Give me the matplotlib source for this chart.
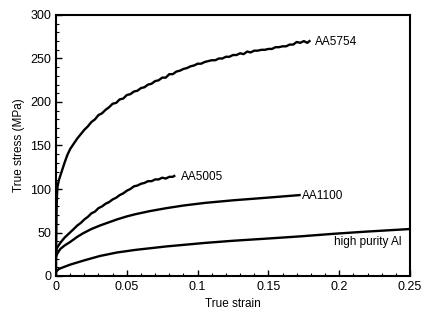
import matplotlib.pyplot as plt
from matplotlib.ticker import MultipleLocator

plt.rcParams['font.family'] = ['Liberation Sans Narrow', 'Liberation Sans', 'DejaVu Sans']

# AA5754 (serrated curve)
strain_5754 = [0.0, 0.0002, 0.0004, 0.0007, 0.001, 0.002, 0.004, 0.006, 0.008,
               0.0100, 0.0125, 0.0150, 0.0175, 0.0200, 0.0225, 0.0250, 0.0275,
               0.0300, 0.0325, 0.0350, 0.0375, 0.0400, 0.0425, 0.0450, 0.0475,
               0.0500, 0.0525, 0.0550, 0.0575, 0.0600, 0.0625, 0.0650, 0.0675,
               0.0700, 0.0725, 0.0750, 0.0775, 0.0800, 0.0825, 0.0850, 0.0875,
               0.0900, 0.0925, 0.0950, 0.0975, 0.1000, 0.1025, 0.1050, 0.1075,
               0.1100, 0.1125, 0.1150, 0.1175, 0.1200, 0.1225, 0.1250, 0.1275,
               0.1300, 0.1325, 0.1350, 0.1375, 0.1400, 0.1425, 0.1450, 0.1475,
               0.1500, 0.1525, 0.1550, 0.1575, 0.1600, 0.1625, 0.1650, 0.1675,
               0.1700, 0.1725, 0.1750, 0.1775, 0.1790]
stress_5754 = [0, 45, 75, 93, 102, 110, 120, 130, 139,
               146, 152, 158, 163, 168, 172, 177, 180,
               185, 187, 191, 194, 198, 199, 203, 204,
               208, 209, 212, 213, 216, 217, 220, 221,
               224, 225, 228, 228, 232, 232, 235, 236,
               238, 239, 241, 242, 244, 244, 246, 247,
               248, 248, 250, 250, 252, 252, 254, 254,
               256, 255, 258, 257, 259, 259, 260, 260,
               261, 261, 263, 263, 264, 264, 266, 266,
               269, 268, 270, 268, 270]

# AA5005
strain_5005 = [0.0, 0.001, 0.003, 0.006, 0.0099, 0.0125, 0.015, 0.0175, 0.020,
               0.0225, 0.025, 0.0275, 0.030, 0.0325, 0.035, 0.0375, 0.040,
               0.0425, 0.045, 0.0475, 0.050, 0.0525, 0.055, 0.0575, 0.060,
               0.0625, 0.065, 0.0675, 0.070, 0.0725, 0.075, 0.0775, 0.080,
               0.0825, 0.0835]
stress_5005 = [30, 33, 38, 44, 50, 54, 58, 61, 65,
               68, 72, 74, 78, 80, 83, 85, 88,
               90, 93, 95, 98, 100, 103, 104, 106,
               107, 109, 109, 111, 111, 113, 112, 114,
               114, 115]

# AA1100
strain_1100 = [0.0, 0.001, 0.003, 0.006, 0.0099, 0.015, 0.019, 0.025, 0.031, 0.037,
               0.043, 0.050, 0.056, 0.066, 0.078, 0.090, 0.105, 0.125, 0.149, 0.172]
stress_1100 = [22, 26, 31, 35, 39, 45, 49, 54, 58, 61.5,
               65, 68.5, 71, 74.5, 78, 81, 84, 87, 90, 93]

# high purity Al
strain_hp = [0.0, 0.002, 0.005, 0.0099, 0.02, 0.031, 0.043, 0.056, 0.078, 0.105,
             0.125, 0.149, 0.172, 0.196, 0.219, 0.25]
stress_hp = [5, 8, 10, 13, 18, 23, 27, 30, 34, 38,
             40.5, 43, 45.5, 48.5, 51, 54]

fig = plt.figure(figsize=(4.22, 3.21), dpi=100)
ax = fig.add_axes([56 / 422, 45 / 321, 354 / 422, 261 / 321])

ax.plot(strain_5754, stress_5754, color='black', lw=1.7)
ax.plot(strain_5005, stress_5005, color='black', lw=1.7)
ax.plot(strain_1100, stress_1100, color='black', lw=1.7)
ax.plot(strain_hp, stress_hp, color='black', lw=1.7)

ax.text(0.183, 269, 'AA5754', fontsize=8.5, va='center', ha='left')
ax.text(0.088, 114, 'AA5005', fontsize=8.5, va='center', ha='left')
ax.text(0.174, 92, 'AA1100', fontsize=8.5, va='center', ha='left')
ax.text(0.244, 39, 'high purity Al', fontsize=8.5, va='center', ha='right')

ax.set_xlim(0, 0.25)
ax.set_ylim(0, 300)
ax.set_xticks([0, 0.05, 0.1, 0.15, 0.2, 0.25])
ax.set_xticklabels(['0', '0.05', '0.1', '0.15', '0.2', '0.25'])
ax.xaxis.set_minor_locator(MultipleLocator(0.01))
ax.yaxis.set_minor_locator(MultipleLocator(10))
ax.tick_params(which='both', direction='in', top=False, right=False, labelsize=9)
ax.tick_params(which='major', length=4, width=1)
ax.tick_params(which='minor', length=2, width=0.8)
for s in ax.spines.values():
    s.set_linewidth(1.5)

ax.set_xlabel('True strain', fontsize=8.5)
ax.set_ylabel('True stress (MPa)', fontsize=8.5)

fig.savefig('out.png', dpi=100)
